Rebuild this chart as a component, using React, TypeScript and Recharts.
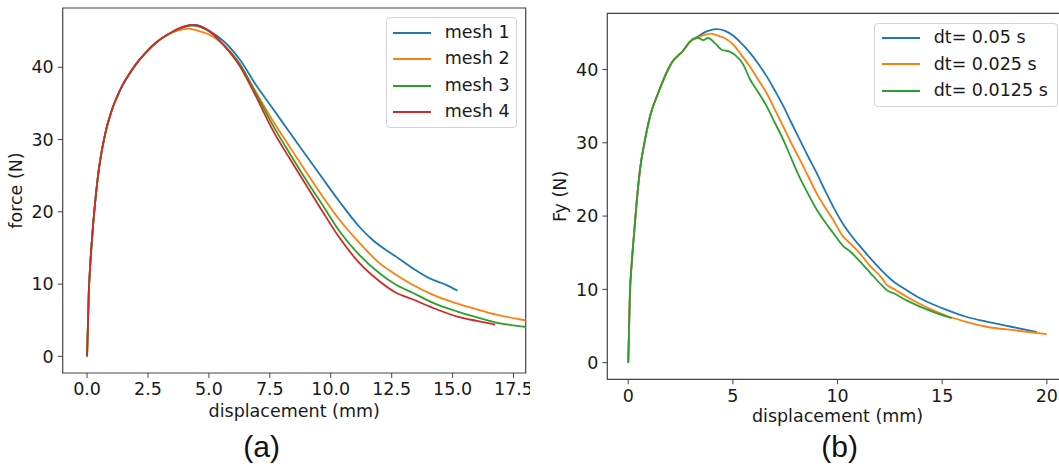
import React from 'react';
import { LineChart, Line, XAxis, YAxis, ReferenceArea, Label } from 'recharts';

// ---------- Panel (a): mesh study ----------
const riseAX = [0, 0.07, 0.14, 0.21, 0.34, 0.48, 0.59, 0.7, 0.8, 0.9, 1.05, 1.23, 1.45, 1.7, 2.0, 2.4, 2.9, 3.35];
const riseAY = [0, 8.8, 13.2, 16.6, 21.6, 25.8, 28.2, 30.1, 31.6, 32.8, 34.4, 35.9, 37.5, 38.9, 40.4, 42.0, 43.6, 44.6];

const mesh1X = [3.75, 4.1, 4.45, 5.03, 5.57, 6.26, 6.94, 7.62, 8.31, 8.99, 9.67, 10.36, 11.18, 11.72, 12.68, 13.36, 14.05, 14.73, 15.2];
const mesh1Y = [45.3, 45.7, 45.85, 45.0, 43.7, 41.1, 37.5, 34.3, 31.0, 27.8, 24.6, 21.4, 17.9, 16.1, 13.8, 12.2, 10.8, 9.9, 9.1];

const mesh2X = [3.75, 4.15, 4.6, 5.03, 5.57, 6.26, 6.94, 7.62, 8.31, 8.99, 9.67, 10.36, 11.18, 12.0, 12.68, 13.36, 14.2, 15.2, 16.0, 16.75, 17.97, 18.5];
const mesh2Y = [45.1, 45.35, 45.0, 44.5, 43.2, 40.5, 36.5, 32.6, 29.0, 25.5, 22.1, 18.9, 15.7, 12.9, 11.3, 9.9, 8.5, 7.3, 6.5, 5.8, 5.0, 4.7];

const mesh3X = [3.75, 4.28, 5.03, 5.57, 6.26, 6.94, 7.62, 8.31, 8.99, 9.67, 10.36, 11.18, 12.0, 12.68, 13.36, 14.2, 15.2, 16.0, 16.75, 17.97, 18.5];
const mesh3Y = [45.3, 45.8, 44.9, 43.2, 40.5, 36.3, 32.0, 28.1, 24.4, 20.9, 17.3, 14.0, 11.5, 9.9, 8.8, 7.4, 6.2, 5.4, 4.7, 4.1, 3.9];

const mesh4X = [3.75, 4.28, 5.03, 5.57, 6.26, 6.94, 7.62, 8.31, 8.99, 9.67, 10.36, 11.18, 12.0, 12.68, 13.36, 14.2, 15.2, 16.0, 16.75];
const mesh4Y = [45.35, 45.85, 45.0, 43.2, 40.2, 35.9, 31.3, 27.4, 23.7, 20.0, 16.4, 12.9, 10.4, 8.8, 7.9, 6.7, 5.5, 4.9, 4.4];

const meshNames = ['mesh 1', 'mesh 2', 'mesh 3', 'mesh 4'];
const xTicksA = [0, 2.5, 5, 7.5, 10, 12.5, 15, 17.5];

// ---------- Panel (b): time step study ----------
const riseBX = [0, 0.08, 0.16, 0.24, 0.4, 0.56, 0.8, 1.04, 1.43, 2.07, 2.63, 2.95];
const riseBY = [0, 9.5, 13.3, 16.3, 21.8, 26.3, 30.4, 33.6, 36.8, 40.9, 42.6, 43.8];

const dt1X = [3.27, 3.6, 3.9, 4.22, 4.6, 5.02, 5.4, 5.81, 6.21, 6.61, 7.01, 7.41, 7.8, 8.2, 8.6, 9.0, 9.4, 9.79, 10.27, 10.59, 11.07, 11.55, 12.1, 12.66, 13.3, 13.94, 14.6, 15.21, 16.1, 17.12, 18.3, 19.51];
const dt1Y = [44.4, 45.0, 45.35, 45.5, 45.3, 44.6, 43.6, 42.3, 40.8, 39.1, 37.1, 35.0, 32.7, 30.4, 28.1, 25.9, 23.5, 21.3, 18.9, 17.6, 15.9, 14.3, 12.6, 11.1, 9.9, 8.8, 7.9, 7.2, 6.3, 5.6, 4.9, 4.2];

const dt2X = [3.27, 3.6, 3.98, 4.2, 4.6, 5.02, 5.4, 5.81, 6.21, 6.61, 7.01, 7.41, 7.8, 8.2, 8.6, 9.0, 9.4, 9.79, 10.27, 10.59, 11.07, 11.55, 12.1, 12.35, 12.66, 13.3, 13.94, 14.6, 15.21, 16.1, 17.12, 18.5, 19.99];
const dt2Y = [44.3, 44.7, 44.9, 44.7, 44.3, 43.4, 42.0, 40.4, 38.6, 36.8, 34.5, 32.2, 29.9, 27.7, 25.4, 23.1, 21.2, 19.5, 17.2, 16.3, 14.9, 13.2, 11.6, 10.6, 10.1, 9.0, 8.0, 7.1, 6.4, 5.6, 4.9, 4.4, 3.9];

const dt3X = [3.11, 3.35, 3.58, 3.82, 4.14, 4.46, 4.78, 5.1, 5.49, 5.81, 6.21, 6.61, 7.01, 7.41, 7.8, 8.2, 8.6, 9.0, 9.4, 9.79, 10.27, 10.59, 10.91, 11.55, 12.1, 12.4, 12.66, 13.3, 13.94, 14.6, 15.45];
const dt3Y = [44.2, 44.3, 44.0, 44.3, 43.6, 42.7, 42.5, 42.0, 40.7, 38.7, 36.9, 35.0, 32.7, 30.4, 27.8, 25.2, 23.0, 20.9, 19.2, 17.7, 15.9, 15.2, 14.3, 12.3, 10.6, 9.8, 9.5, 8.5, 7.65, 6.9, 6.07];

const dtNames = ['dt= 0.05 s', 'dt= 0.025 s', 'dt= 0.0125 s'];
const xTicksB = [0, 5, 10, 15, 20];
const yTicks = [0, 10, 20, 30, 40];

const COLORS = ['#1f77b4', '#ff7f0e', '#2ca02c', '#d62728'];
const FONT = '"DejaVu Sans", sans-serif';
const TXT = '#1a1a1a';
const SPINE = '#444';

const pts = (xs: number[], ys: number[]) => xs.map((x, i) => ({ x, y: ys[i] }));
const withRise = (rx: number[], ry: number[], xs: number[], ys: number[]) => pts(rx.concat(xs), ry.concat(ys));

const meshSeries = [
  withRise(riseAX, riseAY, mesh1X, mesh1Y),
  withRise(riseAX, riseAY, mesh2X, mesh2Y),
  withRise(riseAX, riseAY, mesh3X, mesh3Y),
  withRise(riseAX, riseAY, mesh4X, mesh4Y),
];
const dtSeries = [
  withRise(riseBX, riseBY, dt1X, dt1Y),
  withRise(riseBX, riseBY, dt2X, dt2Y),
  withRise(riseBX, riseBY, dt3X, dt3Y),
];

const tickStyle = { fontSize: 17.5, fill: TXT, fontFamily: FONT };

const xTitle = (text: string, dy: number) => (props: any) => {
  const vb = props.viewBox || {};
  return (
    <text x={vb.x + vb.width / 2} y={vb.y + dy} textAnchor="middle" fontSize={17.5} fontFamily={FONT} fill={TXT}>
      {text}
    </text>
  );
};
const yTitle = (text: string, dx: number) => (props: any) => {
  const vb = props.viewBox || {};
  const cx = vb.x + vb.width - dx;
  const cy = vb.y + vb.height / 2;
  return (
    <text x={cx} y={cy} transform={`rotate(-90, ${cx}, ${cy})`} textAnchor="middle" fontSize={17.5} fontFamily={FONT} fill={TXT}>
      {text}
    </text>
  );
};

const LegendBox = ({ names, left, top, width, height, padTop, rowH, swLeft, swW, gap }: any) => (
  <div
    style={{
      position: 'absolute', left, top, width, height, boxSizing: 'border-box',
      border: '1px solid #d4d4d4', borderRadius: 4, background: 'rgba(255,255,255,0.85)',
      paddingTop: padTop, fontFamily: FONT, fontSize: 17.5, color: TXT,
    }}
  >
    {names.map((n: string, i: number) => (
      <div key={n} style={{ height: rowH, display: 'flex', alignItems: 'center' }}>
        <div style={{ marginLeft: swLeft, width: swW, height: 2, background: COLORS[i] }} />
        <span style={{ marginLeft: gap, whiteSpace: 'nowrap', lineHeight: 1 }}>{n}</span>
      </div>
    ))}
  </div>
);

const Caption = ({ text, cx }: any) => (
  <div style={{ position: 'absolute', left: cx - 50, top: 429, width: 100, textAlign: 'center', fontFamily: '"Liberation Sans", Arial, sans-serif', fontSize: 30, lineHeight: '36px', color: '#111' }}>
    {text}
  </div>
);

export default function App() {
  return (
    <div style={{ position: 'absolute', left: 0, top: 0, width: 1059, height: 466, overflow: 'hidden', background: '#fff' }}>
      <div style={{ position: 'absolute', left: 0, top: 0 }}>
        <LineChart width={530} height={466} margin={{ top: 8, right: 4.3, bottom: 0, left: 0 }}>
          <XAxis dataKey="x" type="number" domain={[-1, 18]} allowDataOverflow ticks={xTicksA} interval={0}
            tickFormatter={(v: number) => v.toFixed(1)} height={93} axisLine={false} tickSize={5} tickMargin={5}
            tick={tickStyle} tickLine={{ stroke: SPINE }}>
            <Label content={xTitle('displacement (mm)', 44)} />
          </XAxis>
          <YAxis type="number" domain={[-2.3, 48.2]} allowDataOverflow ticks={yTicks} interval={0} width={62.7}
            axisLine={false} tickSize={5} tickMargin={4} tick={tickStyle} tickLine={{ stroke: SPINE }}>
            <Label content={yTitle('force (N)', 40.6)} />
          </YAxis>
          <ReferenceArea x1={-1} x2={18} y1={-2.3} y2={48.2} fill="none" fillOpacity={0} stroke={SPINE} strokeWidth={1.2} />
          {meshSeries.map((d, i) => (
            <Line key={meshNames[i]} name={meshNames[i]} data={d} dataKey="y" type="monotone" stroke={COLORS[i]}
              strokeWidth={1.8} dot={false} isAnimationActive={false} />
          ))}
        </LineChart>
      </div>
      <div style={{ position: 'absolute', left: 540, top: 0 }}>
        <LineChart width={530} height={466} margin={{ top: 13.3, right: 2.2, bottom: 0, left: 0 }}>
          <XAxis dataKey="x" type="number" domain={[-1, 21]} allowDataOverflow ticks={xTicksB} interval={0}
            height={86.7} axisLine={false} tickSize={5} tickMargin={5} tick={tickStyle} tickLine={{ stroke: SPINE }}>
            <Label content={xTitle('displacement (mm)', 42.5)} />
          </XAxis>
          <YAxis type="number" domain={[-2.27, 47.67]} allowDataOverflow ticks={yTicks} interval={0} width={67.3}
            axisLine={false} tickSize={5} tickMargin={4} tick={tickStyle} tickLine={{ stroke: SPINE }}>
            <Label content={yTitle('Fy (N)', 41.1)} />
          </YAxis>
          <ReferenceArea x1={-1} x2={21} y1={-2.27} y2={47.67} fill="none" fillOpacity={0} stroke={SPINE} strokeWidth={1.2} />
          {dtSeries.map((d, i) => (
            <Line key={dtNames[i]} name={dtNames[i]} data={d} dataKey="y" type="monotone" stroke={COLORS[i]}
              strokeWidth={1.8} dot={false} isAnimationActive={false} />
          ))}
        </LineChart>
      </div>
      <LegendBox names={meshNames} left={386} top={16.7} width={131} height={111} padTop={1.75} rowH={26.5} swLeft={6} swW={38} gap={13.8} />
      <LegendBox names={dtNames} left={874.3} top={22.7} width={184} height={84} padTop={0.7} rowH={26.65} swLeft={6.4} swW={38.3} gap={13.7} />
      <Caption text="(a)" cx={261.6} />
      <Caption text="(b)" cx={839.7} />
    </div>
  );
}
